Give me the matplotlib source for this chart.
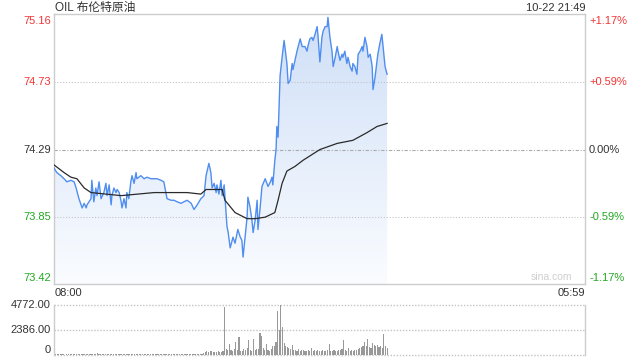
import numpy as np
import matplotlib
matplotlib.use("Agg")
import matplotlib.pyplot as plt
from matplotlib.patches import Polygon
from matplotlib.colors import LinearSegmentedColormap
from matplotlib.transforms import blended_transform_factory

plt.rcParams['font.family'] = ['Liberation Sans', 'Noto Sans CJK SC', 'DejaVu Sans']

# ---- data (minutes since 08:00) ----
title = "OIL 布伦特原油"
stamp = "10-22 21:49"
prev_close = 74.29
price_ticks = [75.16, 74.73, 74.29, 73.85, 73.42]
pct_labels = ["+1.17%", "+0.59%", "0.00%", "-0.59%", "-1.17%"]
session_len = 1320  # 08:00 -> 05:59

price_min = [0, 7, 17, 25, 32, 42, 50, 55, 62, 70, 75, 80, 82, 92, 94, 99, 104, 107, 112, 117,
             124, 129, 132, 137, 142, 144, 149, 154, 157, 162, 167, 169, 174, 179, 181, 186,
             191, 194, 199, 204, 206, 216, 224, 231, 241, 249, 256, 266, 273, 281, 291, 298,
             306, 316, 323, 331, 341, 348, 356, 365, 373, 378, 385, 390, 393, 398, 403, 405,
             410, 415, 418, 423, 428,
             430, 433, 438, 445, 450, 457, 463, 467, 470, 475, 480, 482, 487, 492, 495, 500,
             505, 507, 512, 517, 525, 532, 538, 542, 544, 549, 552, 554, 557,
             562, 567, 572, 579, 582, 587, 592, 594, 599, 604, 607, 612, 617, 624, 629, 631,
             636, 641, 644, 649, 654, 656, 661, 666, 669, 674, 679, 681, 686, 691, 694, 699,
             704, 706, 711, 716, 718, 723, 728, 731, 736, 741, 743, 748, 753, 756, 761, 766,
             768, 773, 778, 781, 786, 791, 793, 798, 803, 805, 810, 815, 818, 823, 828]
price = [74.17, 74.14, 74.12, 74.10, 74.08, 74.09, 74.08, 74.04, 73.97, 73.91, 73.94, 73.91,
         73.93, 73.97, 74.09, 73.95, 74.04, 73.99, 74.08, 73.97, 74.01, 74.07, 73.99, 74.06,
         73.93, 73.99, 74.04, 74.01, 74.03, 74.01, 73.95, 73.91, 73.97, 73.91, 74.01, 73.97,
         74.08, 74.12, 74.07, 74.14, 74.10, 74.12, 74.10, 74.11, 74.10, 74.10, 74.10, 74.09,
         74.08, 73.97, 73.96, 73.96, 73.95, 73.94, 73.95, 73.96, 73.94, 73.90, 73.93, 73.97,
         73.99, 74.12, 74.20, 74.14, 74.04, 74.07, 74.01, 74.06, 74.00, 74.09, 73.99, 74.06,
         73.86,
         73.79, 73.75, 73.65, 73.72, 73.68, 73.77, 73.72, 73.70, 73.59, 73.72, 73.85, 73.98,
         73.92, 73.83, 73.75, 73.83, 73.96, 73.77, 73.90, 74.05, 74.10, 74.05, 74.08, 74.11,
         74.06, 74.22, 74.29, 74.44, 74.37,
         74.77, 74.89, 75.00, 74.85, 74.72, 74.74, 74.85, 74.81, 74.87, 74.93, 74.96, 75.01,
         74.96, 74.96, 74.93, 74.96, 75.01, 75.02, 75.00, 75.04, 75.09, 75.04, 74.86, 75.02,
         75.06, 75.09, 75.09, 75.15, 75.02, 74.93, 74.83, 74.89, 74.96, 74.93, 74.87, 74.91,
         74.89, 74.93, 74.85, 74.89, 74.83, 74.80, 74.85, 74.83, 74.78, 74.91, 74.93, 74.96,
         74.93, 75.02, 74.96, 74.89, 74.91, 74.83, 74.68, 74.76, 74.87, 74.91, 74.98, 75.04,
         74.96, 74.83, 74.78]

avg_min = [0, 25, 42, 57, 75, 92, 167, 249, 331, 365, 378, 418, 425, 450, 480, 500, 525,
           549, 557, 567, 579, 599, 619, 661, 704, 743, 778, 803, 828]
avg_price = [74.19, 74.14, 74.11, 74.10, 74.04, 74.01, 73.99, 74.01, 74.01, 74.00, 74.03,
             74.03, 73.96, 73.88, 73.84, 73.84, 73.85, 73.88, 73.96, 74.07, 74.15, 74.18,
             74.22, 74.29, 74.33, 74.35, 74.40, 74.44, 74.46]

vol_step = 4  # minutes per bar
volume = [90, 60, 80, 50, 70, 60, 90, 40, 60, 70,
          50, 80, 60, 70, 50, 60, 90, 70, 60, 80,
          120, 70, 60, 50, 80, 60, 70, 150, 60, 50,
          70, 60, 80, 50, 60, 70, 60, 90, 60, 50,
          60, 80, 50, 70, 60, 50, 70, 60, 80, 60,
          70, 60, 50, 120, 60, 70, 50, 60, 80, 60,
          50, 70, 60, 80, 60, 50, 70, 60, 100, 60,
          70, 60, 50, 80, 60, 70, 60, 50, 70, 60,
          80, 60, 70, 50, 60, 90, 60, 70, 60, 80,
          100, 80, 120, 150, 250, 380, 300, 420, 350, 280,
          300, 260, 350, 280, 320, 400, 4540, 600, 500, 1070,
          450, 380, 600, 1260, 500, 1700, 420, 380, 550, 460,
          680, 1450, 520, 400, 1550, 480, 620, 560, 2100, 1850,
          700, 520, 1070, 480, 420, 600, 820, 900, 1200, 4190,
          2340, 4772, 2630, 1100, 900, 760, 650, 580, 970, 520,
          480, 420, 600, 380, 450, 520, 400, 360, 480, 420,
          700, 380, 440, 360, 520, 400, 350, 460, 380, 420,
          500, 1070, 420, 380, 460, 350, 400, 480, 520, 600,
          1460, 500, 420, 700, 380, 460, 400, 520, 440, 600,
          650, 720, 880, 1260, 900, 1550, 800, 700, 1100, 950,
          880, 970, 760, 820, 700, 2040, 900, 650]
vol_max = 4772

red = "#f23535"
green = "#22a822"
dark = "#333333"
frame = "#cccccc"

fig = plt.figure(figsize=(6.4, 3.6), dpi=100)
ax = fig.add_axes([54 / 640, 1 - 284 / 360, 531 / 640, 270 / 360])
axv = fig.add_axes([54 / 640, 1 - 355 / 360, 531 / 640, 50 / 360])

ymin, ymax = 73.415, 75.172

# gradient area under price line
t = np.array(price_min)
p = np.array(price)
verts = [(t[0], ymin)] + list(zip(t, p)) + [(t[-1], ymin)]
poly = Polygon(verts, closed=True, facecolor="none", edgecolor="none")
ax.add_patch(poly)
cmap = LinearSegmentedColormap.from_list("fill", ["#fafcff", "#cfdff7"])
grad = np.linspace(0, 1, 256).reshape(-1, 1)
im = ax.imshow(grad, extent=[0, t[-1], ymin, ymax], origin="lower",
               aspect="auto", cmap=cmap, zorder=1, interpolation="bilinear")
im.set_clip_path(poly)

ax.plot(t, p, color="#4f8ef0", lw=1.0, zorder=3)
ax.plot(avg_min, avg_price, color="#2a2a2a", lw=0.9, zorder=3)

for v in [74.73, 73.85]:
    ax.axhline(v, color="#c4c4c4", lw=0.8, ls=(0, (1, 1.6)), zorder=2)
ax.axhline(prev_close, color="#aaaaaa", lw=0.8, ls=(0, (3, 1.5, 1, 1.5)), zorder=2)

ax.set_xlim(0, session_len)
ax.set_ylim(ymin, ymax)
ax.set_xticks([])
ax.set_yticks([])
for s in ax.spines.values():
    s.set_color(frame)
    s.set_linewidth(1.0)

colors = [red, red, dark, green, green]
trl = blended_transform_factory(fig.transFigure, ax.transData)
for i, (v, lab, c) in enumerate(zip(price_ticks, pct_labels, colors)):
    va = "center"
    if i == 0:
        va = "top"
    elif i == len(price_ticks) - 1:
        va = "bottom"
    fig.text(51 / 640, v, f"{v:.2f}", color=c, fontsize=8, ha="right", va=va,
             transform=trl)
    fig.text(589 / 640, v, lab, color=c, fontsize=8, ha="left", va=va,
             transform=trl)

fig.text(55 / 640, 1 - 8 / 360, title, fontsize=8.5, color=dark, ha="left", va="center")
fig.text(585 / 640, 1 - 8 / 360, stamp, fontsize=8, color=dark, ha="right", va="center")
fig.text(55 / 640, 1 - 293 / 360, "08:00", fontsize=8, color=dark, ha="left", va="center")
fig.text(585 / 640, 1 - 293 / 360, "05:59", fontsize=8, color=dark, ha="right", va="center")
ax.text(0.975, 0.008, "sina.com", transform=ax.transAxes, fontsize=7.5,
        color="#cfcfcf", ha="right", va="bottom")

# volume panel
vt = np.arange(len(volume)) * vol_step
axv.bar(vt, volume, width=vol_step * 0.7, color="#999999", linewidth=0, zorder=2)
axv.set_xlim(0, session_len)
axv.set_ylim(0, vol_max)
for v in [vol_max, vol_max / 2, 0]:
    axv.axhline(v, color="#c4c4c4", lw=1.0, ls=(0, (1, 1.2)), zorder=1, clip_on=False)
axv.set_xticks([])
axv.set_yticks([])
axv.spines["top"].set_visible(False)
axv.spines["bottom"].set_visible(False)
for s in ["left", "right"]:
    axv.spines[s].set_color(frame)
    axv.spines[s].set_linewidth(1.0)

trv = blended_transform_factory(fig.transFigure, axv.transData)
fig.text(51 / 640, vol_max, f"{vol_max:.2f}", fontsize=8, color=dark, ha="right",
         va="center", transform=trv)
fig.text(51 / 640, vol_max / 2, f"{vol_max / 2:.2f}", fontsize=8, color=dark,
         ha="right", va="center", transform=trv)
fig.text(51 / 640, 0, "0", fontsize=8, color=dark, ha="right", va="bottom",
         transform=trv)

fig.savefig("out.png", dpi=100)
